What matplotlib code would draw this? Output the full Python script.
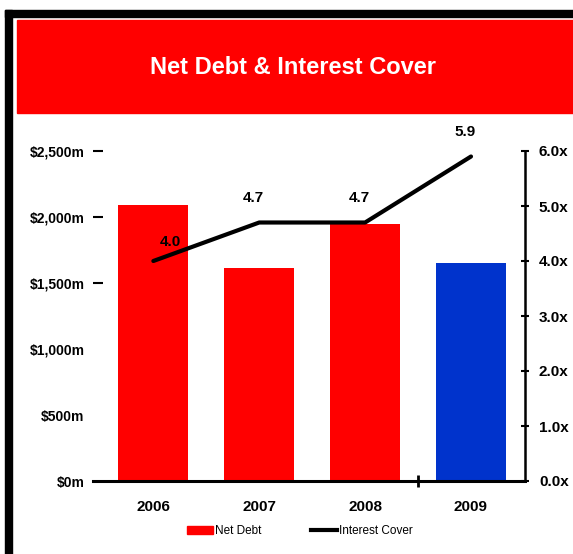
import matplotlib.pyplot as plt
from matplotlib.patches import Rectangle, Patch
from matplotlib.lines import Line2D

plt.rcParams['font.family'] = ['Liberation Sans', 'DejaVu Sans']

years = ['2006', '2007', '2008', '2009']
net_debt = [2090, 1615, 1945, 1650]          # $m
interest_cover = [4.0, 4.7, 4.7, 5.9]        # x
bar_colors = ['#ff0000', '#ff0000', '#ff0000', '#0033cc']

debt_ticks = [0, 500, 1000, 1500, 2000, 2500]
debt_labels = ['$0m', '$500m', '$1,000m', '$1,500m', '$2,000m', '$2,500m']
debt_marks = [1500, 2000, 2500]
cover_ticks = [0, 1, 2, 3, 4, 5, 6]

W, H = 573, 554
fig = plt.figure(figsize=(W / 100, H / 100), dpi=100)

# frame and title banner
fig.patches.append(Rectangle((5 / W, 0), 7 / W, (H - 10) / H, transform=fig.transFigure,
                             color='black', zorder=0))
fig.patches.append(Rectangle((5 / W, 1 - 17 / H), 1, 7 / H, transform=fig.transFigure,
                             color='black', zorder=0))
fig.patches.append(Rectangle((17 / W, 1 - 113 / H), 1, 93 / H, transform=fig.transFigure,
                             color='#ff0000', zorder=0))
fig.text(293 / W, 1 - 68 / H, 'Net Debt & Interest Cover', color='white',
         fontsize=17, fontweight='bold', ha='center', va='center')

ax = fig.add_axes([93 / W, 1 - 481 / H, 432 / W, 330 / H])
x = list(range(len(years)))
ax.bar(x, net_debt, width=0.66, color=bar_colors, zorder=2)
ax.set_xlim(-0.57, 3.51)
ax.set_ylim(0, 2500)

ax.set_xticks(x)
ax.set_xticklabels(years, fontsize=11, fontweight='bold')
ax.tick_params(axis='x', length=0, pad=14)
ax.set_xticks([2.5], minor=True)
ax.tick_params(axis='x', which='minor', direction='inout', length=9, width=2)

for s in ['left', 'top', 'right']:
    ax.spines[s].set_visible(False)
ax.spines['bottom'].set_linewidth(2.2)

ax2 = ax.twinx()
ax2.set_ylim(0, 6)
ax2.set_yticks(cover_ticks)
ax2.set_yticklabels([f'{v:.1f}x' for v in cover_ticks], fontsize=11, fontweight='bold')
ax2.tick_params(axis='y', direction='inout', length=6, width=1.5, pad=7)
for s in ['left', 'top', 'bottom']:
    ax2.spines[s].set_visible(False)
ax2.spines['right'].set_linewidth(1.8)

ax.set_yticks(debt_ticks)
ax.set_yticklabels(debt_labels, fontsize=10, fontweight='bold')
ax.tick_params(axis='y', length=0, pad=6)
# short dashes only on the upper values
ax.yaxis.remove_overlapping_locs = False
ax.set_yticks(debt_marks, minor=True)
ax.tick_params(axis='y', which='minor', direction='in', length=7, width=1.5)

ax2.plot(x, interest_cover, color='black', lw=3, solid_capstyle='round', zorder=3)
for i, v in enumerate(interest_cover):
    dx = 12 if i == 0 else -4
    dy = 14 if i == 0 else 18
    ax2.annotate(f'{v:.1f}', (i, v), xytext=(dx, dy), textcoords='offset points',
                 ha='center', va='center', fontsize=11, fontweight='bold')

handles = [Patch(color='#ff0000', label='Net Debt'),
           Line2D([], [], color='black', lw=3, label='Interest Cover')]
fig.legend(handles=handles, loc='center', bbox_to_anchor=(300 / W, 1 - 531 / H), ncol=2,
           frameon=False, fontsize=8.5, handlelength=2.2, handleheight=0.6,
           handletextpad=0.2, columnspacing=4.2)

fig.savefig('out.png', dpi=100)
